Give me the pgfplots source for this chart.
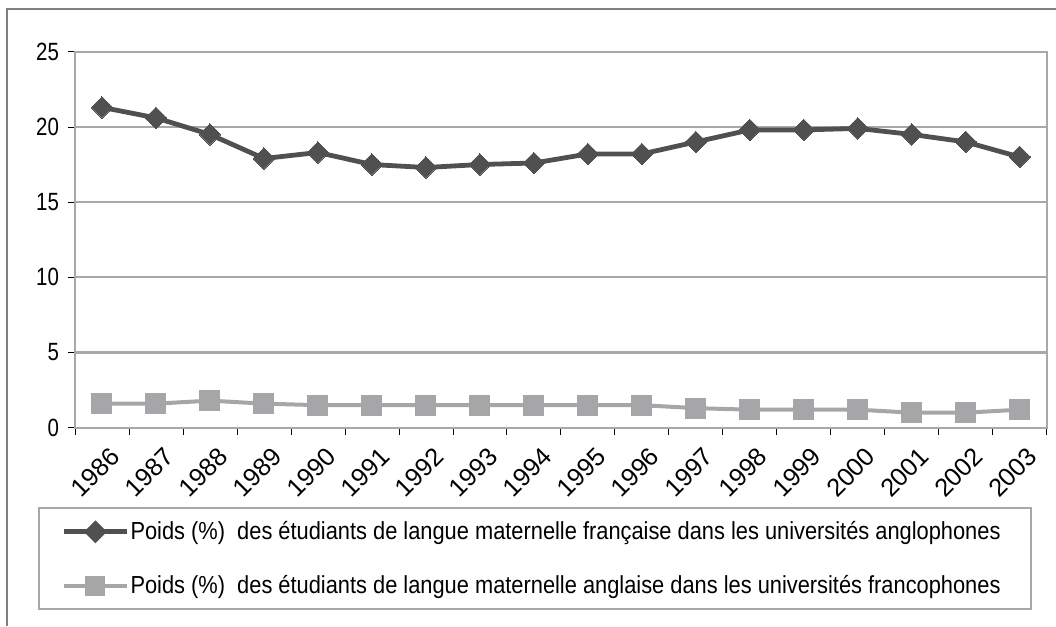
\documentclass[border=0pt]{standalone}
\usepackage{pgfplots}
\pgfplotsset{compat=1.18}
\usepackage{fontspec}
\setmainfont{Liberation Sans}
\newfontfamily\narrowfont{Liberation Sans}[FakeStretch=0.82]
\newfontfamily\legfont{Liberation Sans}[FakeStretch=0.885]
\definecolor{darkser}{RGB}{80,80,80}
\definecolor{lightser}{RGB}{166,166,168}
\definecolor{gridc}{RGB}{168,168,172}
\definecolor{framec}{RGB}{128,128,128}
\begin{document}
\begin{tikzpicture}
\useasboundingbox (0pt,0pt) rectangle (792pt,-469.5pt);
\draw[framec, line width=1.6pt] (5.25pt,-469.5pt) -- (5.25pt,-6.75pt) -- (792pt,-6.75pt);
\begin{axis}[
  at={(56.25pt,-320.775pt)}, anchor=south west,
  scale only axis, width=728.8pt, height=282pt,
  xmin=-0.5, xmax=17.5, ymin=0, ymax=25,
  xtick={0,...,17},
  xticklabels={1986,1987,1988,1989,1990,1991,1992,1993,1994,1995,1996,1997,1998,1999,2000,2001,2002,2003},
  minor xtick={-0.5,0.5,...,17.5},
  ytick={0,5,...,25},
  xtick pos=bottom, ytick pos=left,
  major x tick style={draw=none},
  minor x tick style={black, line width=0.6pt},
  y tick style={black, line width=0.6pt},
  tick align=outside,
  major tick length=5.5pt, minor tick length=5.5pt,
  ymajorgrids, grid style={gridc, line width=1.6pt},
  axis line style={gridc, line width=1.6pt},
  /pgf/number format/assume math mode=true,
  yticklabel style={font=\narrowfont\fontsize{18.7pt}{20pt}\selectfont, xshift=-3pt},
  xticklabel style={font=\fontsize{19pt}{20pt}\selectfont, rotate=45, anchor=north east, xshift=1pt, yshift=-6pt},
  legend style={at={(axis description cs:-0.0381,-0.2109)}, anchor=north west,
    draw=gridc, line width=1.6pt, font=\legfont\fontsize{18.5pt}{20pt}\selectfont,
    inner xsep=17pt, inner ysep=10pt, row sep=25pt, column sep=1pt,
    nodes={inner sep=0pt, anchor=west}},
  legend cell align=left,
]
\addplot[darkser, line width=3.6pt, mark=square*, mark size=5.7pt,
  mark options={rotate=45, line width=0pt, fill=darkser},
  legend image code/.code={
    \draw[darkser, line width=3.6pt] (0pt,0pt) -- (47pt,0pt);
    \fill[darkser] (23.5pt,0pt) ++(-6pt,0pt) -- ++(6pt,6pt) -- ++(6pt,-6pt) -- ++(-6pt,-6pt) -- cycle;
  }]
coordinates {
(0,21.3) (1,20.6) (2,19.5) (3,17.9) (4,18.3) (5,17.5) (6,17.3) (7,17.5) (8,17.6)
(9,18.2) (10,18.2) (11,19.0) (12,19.8) (13,19.8) (14,19.9) (15,19.5) (16,19.0) (17,18.0)
};
\addlegendentry{Poids (\%)\ \ des étudiants de langue maternelle française dans les universités anglophones\hspace*{6pt}}
\addplot[lightser, line width=3pt, mark=square*, mark size=7.5pt,
  mark options={line width=0pt, fill=lightser},
  legend image code/.code={
    \draw[lightser, line width=3pt] (0pt,0pt) -- (47pt,0pt);
    \fill[lightser] (17.5pt,-6pt) rectangle (29.5pt,6pt);
  }]
coordinates {
(0,1.6) (1,1.6) (2,1.8) (3,1.6) (4,1.5) (5,1.5) (6,1.5) (7,1.5) (8,1.5)
(9,1.5) (10,1.5) (11,1.3) (12,1.2) (13,1.2) (14,1.2) (15,1.0) (16,1.0) (17,1.2)
};
\addlegendentry{Poids (\%)\ \ des étudiants de langue maternelle anglaise dans les universités francophones\hspace*{6pt}}
\end{axis}
\end{tikzpicture}
\end{document}
